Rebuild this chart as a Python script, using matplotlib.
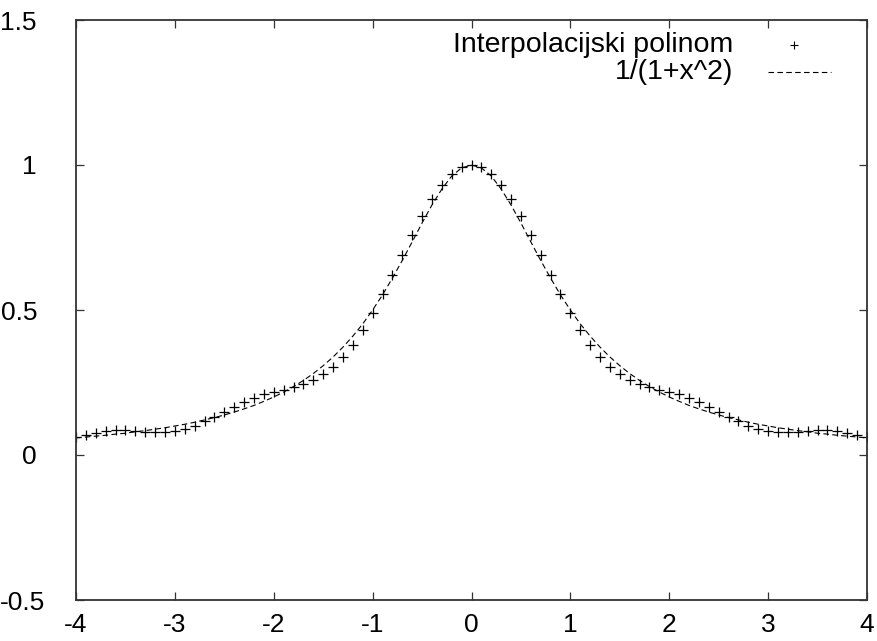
import matplotlib
matplotlib.use("Agg")
import matplotlib.pyplot as plt
import matplotlib.transforms as mtransforms
from matplotlib.ticker import MultipleLocator, FormatStrFormatter

plt.rcParams['font.family'] = ['Liberation Sans', 'DejaVu Sans']
plt.rcParams['axes.unicode_minus'] = False

# sample positions (x >= 0 half; the chart is symmetric)
x_half = [round(0.1 * i, 1) for i in range(41)]

# interpolation polynomial values (x = 0.0 .. 4.0)
poly_half = [1.000, 0.992, 0.969, 0.931, 0.884, 0.824, 0.759, 0.690, 0.621, 0.555,
             0.489, 0.432, 0.381, 0.339, 0.305, 0.278, 0.259, 0.244, 0.234, 0.225,
             0.217, 0.209, 0.198, 0.184, 0.165, 0.150, 0.132, 0.116, 0.100, 0.090,
             0.082, 0.079, 0.079, 0.081, 0.084, 0.085, 0.086, 0.084, 0.077, 0.069,
             0.061]

# 1/(1+x^2) curve values (x = 0.0 .. 4.0)
func_half = [1.000, 0.990, 0.962, 0.917, 0.862, 0.800, 0.735, 0.671, 0.610, 0.552,
             0.500, 0.452, 0.410, 0.372, 0.338, 0.308, 0.281, 0.257, 0.236, 0.217,
             0.200, 0.185, 0.171, 0.159, 0.148, 0.138, 0.129, 0.121, 0.113, 0.106,
             0.100, 0.094, 0.089, 0.084, 0.080, 0.075, 0.072, 0.068, 0.065, 0.062,
             0.059]

x_vals = [-v for v in x_half[:0:-1]] + x_half
poly_vals = poly_half[:0:-1] + poly_half
func_vals = func_half[:0:-1] + func_half

y_ticks = [-0.5, 0, 0.5, 1, 1.5]
y_tick_labels = ["-0.5", "0", "0.5", "1", "1.5"]
legend_labels = ["Interpolacijski polinom", "1/(1+x^2)"]

fig = plt.figure(figsize=(8.77, 6.41), dpi=100)
ax = fig.add_axes([76 / 877, 1 - 600 / 641, (867 - 76) / 877, (600 - 20) / 641])

ax.plot(x_vals, func_vals, color='black', lw=0.8, linestyle=(0, (5, 3)))
ax.plot(x_vals, poly_vals, linestyle='none', marker='+', color='black',
        markersize=6.5, markeredgewidth=0.9)

ax.set_xlim(-4, 4)
ax.set_ylim(-0.5, 1.5)
ax.xaxis.set_major_locator(MultipleLocator(1))
ax.set_yticks(y_ticks)
ax.xaxis.set_major_formatter(FormatStrFormatter('%g'))

ax.tick_params(axis='both', which='major', direction='in', length=6, width=0.9,
               top=True, right=True, labelsize=19, color='#333333')
ax.tick_params(axis='x', pad=9)
ax.tick_params(axis='y', labelleft=False)
for s in ax.spines.values():
    s.set_linewidth(1.3)
    s.set_color('#333333')

# y tick labels (gnuplot style: right-justified, the lowest one pushed in from the edge)
ytr = mtransforms.blended_transform_factory(fig.transFigure, ax.transData)
for val, lab in zip(y_ticks, y_tick_labels):
    if lab.startswith('-'):
        ax.text(0.0, val, lab, transform=ytr, ha='left', va='center_baseline',
                fontsize=19, clip_on=False)
    else:
        ax.text(37 / 877, val, lab, transform=ytr, ha='right', va='center_baseline',
                fontsize=19, clip_on=False)

# legend (gnuplot style: right-aligned text followed by sample)
tr = ax.transAxes
def px2ax(px, py):
    return ((px - 76) / (867 - 76), (600 - py) / (600 - 20))

tx, ty = px2ax(733, 45)
ax.text(tx, ty, legend_labels[0], transform=tr, ha='right', va='center', fontsize=20.5)
mx, my = px2ax(794, 45)
ax.plot([mx], [my], transform=tr, marker='+', color='black', markersize=5.5,
        markeredgewidth=0.8, linestyle='none')

tx2, ty2 = px2ax(733, 72)
ax.text(tx2, ty2, legend_labels[1], transform=tr, ha='right', va='center', fontsize=20.5)
lx1, ly = px2ax(768, 72)
lx2, _ = px2ax(831, 72)
ax.plot([lx1, lx2], [ly, ly], transform=tr, color='black', lw=0.8,
        linestyle=(0, (5, 3)))

fig.savefig('out.png', dpi=100)
